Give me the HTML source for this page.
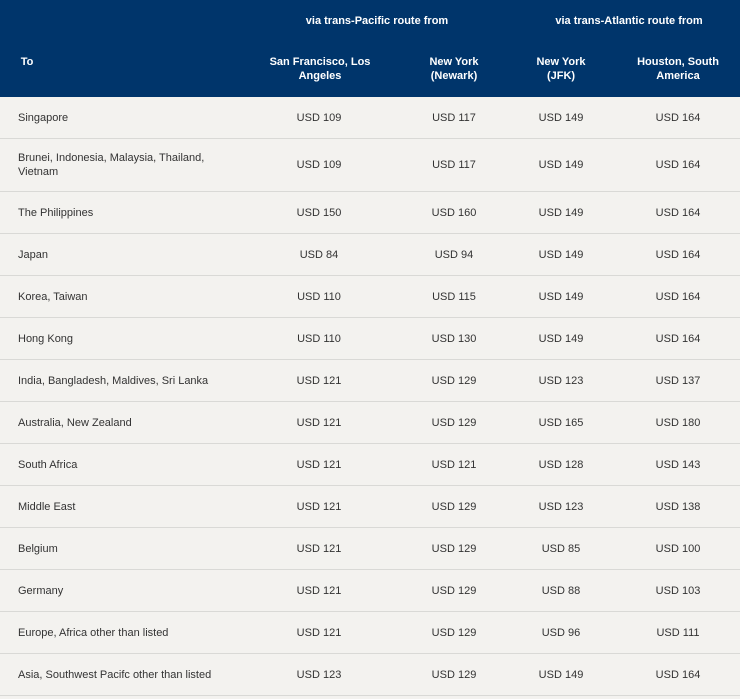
<!DOCTYPE html>
<html><head><meta charset="utf-8"><style>
body{margin:0;width:740px;height:699px;background:#f3f2ef;font-family:"Liberation Sans",Arial,sans-serif;font-size:11px;color:#333;overflow:hidden;position:relative}
.hdr{position:absolute;left:0;top:0;width:740px;height:97px;background:#00356b;color:#fff;font-weight:bold}
.t{position:absolute;text-align:center;line-height:14px;transform:translateX(-50%);white-space:nowrap}
.row{position:absolute;left:0;width:740px;border-bottom:1px solid #d9d9d6}
.c{position:absolute;top:50%;transform:translate(-50%,-50%);white-space:nowrap}
.l{position:absolute;left:18px;top:50%;transform:translateY(-50%);line-height:14px}
</style></head><body>
<div class="hdr">
<div class="t" style="left:377px;top:14px">via trans-Pacific route from</div>
<div class="t" style="left:629px;top:14px">via trans-Atlantic route from</div>
<div class="t" style="left:27px;top:55px">To</div>
<div class="t" style="left:320px;top:55px">San Francisco, Los<br>Angeles</div>
<div class="t" style="left:454px;top:55px">New York<br>(Newark)</div>
<div class="t" style="left:561px;top:55px">New York<br>(JFK)</div>
<div class="t" style="left:678px;top:55px">Houston, South<br>America</div>
</div>
<div id="body"></div>
<script>
const destinations=["Singapore","Brunei, Indonesia, Malaysia, Thailand,<br>Vietnam","The Philippines","Japan","Korea, Taiwan","Hong Kong","India, Bangladesh, Maldives, Sri Lanka","Australia, New Zealand","South Africa","Middle East","Belgium","Germany","Europe, Africa other than listed","Asia, Southwest Pacifc other than listed"];
const sfla=[109,109,150,84,110,110,121,121,121,121,121,121,121,123];
const newark=[117,117,160,94,115,130,129,129,121,129,129,129,129,129];
const jfk=[149,149,149,149,149,149,123,165,128,123,85,88,96,149];
const houston=[164,164,164,164,164,164,137,180,143,138,100,103,111,164];
const cols=[[sfla,319,'sf-la'],[newark,454,'newark'],[jfk,561,'jfk'],[houston,678,'houston']];
const body=document.getElementById('body');
let y=97;
destinations.forEach((d,i)=>{
  const h=i===1?53:42;
  const r=document.createElement('div');
  r.className='row';
  r.style.top=y+'px';r.style.height=(h-1)+'px';
  
  
  const l=document.createElement('div');
  l.className='l';l.innerHTML=d;
  
  
  r.appendChild(l);
  cols.forEach(([arr,x,n])=>{
    const c=document.createElement('div');
    c.className='c';c.style.left=x+'px';c.textContent='USD '+arr[i];
    
    
    r.appendChild(c);
  });
  body.appendChild(r);
  y+=h;
});
</script>
</body></html>
